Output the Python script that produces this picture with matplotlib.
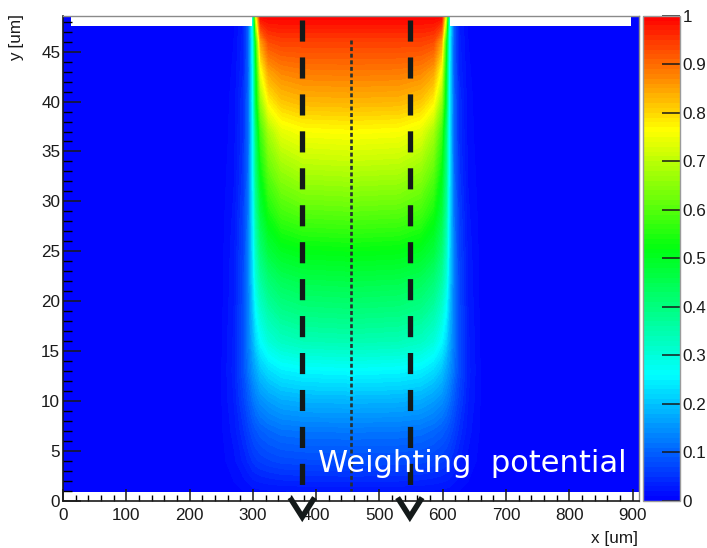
import matplotlib
matplotlib.use("Agg")
import matplotlib.pyplot as plt
from matplotlib.colors import LinearSegmentedColormap, Normalize
import numpy as np


# ------------------------------------------------------------
#  Datos (potencial de ponderacion)
# ------------------------------------------------------------
X_MAX = 910.0      # ancho del detector [um]
Y_MAX = 48.6       # espesor [um]

# columnas de la mitad izquierda (la derecha es simetrica respecto de 455 um)
x_half = [0, 200, 250, 270, 285, 293, 300, 305, 312, 325, 345, 380, 455]

# filas en y [um]
y_rows = [0.9, 2, 4, 7, 10, 13, 16, 19, 22, 25, 29, 33, 37, 40, 43, 46, 48.6]

# potencial en cada fila (mitad izquierda, mismas columnas que x_half)
pot_half = [
    [0, 0.000, 0.002, 0.005, 0.009, 0.011, 0.014, 0.015, 0.016, 0.017, 0.018, 0.019, 0.020],
    [0, 0.000, 0.004, 0.010, 0.017, 0.022, 0.028, 0.030, 0.032, 0.035, 0.038, 0.040, 0.041],
    [0, 0.000, 0.006, 0.017, 0.032, 0.042, 0.052, 0.057, 0.062, 0.068, 0.074, 0.077, 0.078],
    [0, 0.000, 0.008, 0.024, 0.048, 0.065, 0.080, 0.088, 0.097, 0.107, 0.116, 0.120, 0.122],
    [0, 0.000, 0.009, 0.030, 0.065, 0.092, 0.115, 0.130, 0.145, 0.160, 0.175, 0.182, 0.185],
    [0, 0.000, 0.009, 0.034, 0.080, 0.118, 0.150, 0.170, 0.200, 0.225, 0.245, 0.255, 0.260],
    [0, 0.000, 0.008, 0.032, 0.082, 0.128, 0.180, 0.220, 0.260, 0.300, 0.325, 0.340, 0.345],
    [0, 0.000, 0.007, 0.030, 0.078, 0.130, 0.200, 0.260, 0.310, 0.355, 0.385, 0.400, 0.405],
    [0, 0.000, 0.006, 0.027, 0.074, 0.130, 0.220, 0.300, 0.360, 0.410, 0.440, 0.455, 0.460],
    [0, 0.000, 0.006, 0.026, 0.071, 0.130, 0.230, 0.330, 0.410, 0.470, 0.500, 0.515, 0.520],
    [0, 0.000, 0.005, 0.022, 0.064, 0.125, 0.240, 0.370, 0.470, 0.540, 0.585, 0.605, 0.610],
    [0, 0.000, 0.004, 0.018, 0.055, 0.115, 0.250, 0.400, 0.520, 0.610, 0.660, 0.685, 0.690],
    [0, 0.000, 0.003, 0.015, 0.050, 0.110, 0.250, 0.420, 0.580, 0.680, 0.740, 0.760, 0.765],
    [0, 0.000, 0.003, 0.014, 0.050, 0.110, 0.260, 0.480, 0.660, 0.775, 0.815, 0.830, 0.833],
    [0, 0.000, 0.002, 0.012, 0.040, 0.100, 0.260, 0.500, 0.750, 0.850, 0.875, 0.885, 0.887],
    [0, 0.000, 0.002, 0.010, 0.035, 0.100, 0.270, 0.550, 0.850, 0.930, 0.940, 0.940, 0.940],
    [0, 0.000, 0.001, 0.008, 0.030, 0.100, 0.300, 0.750, 1.000, 1.000, 1.000, 1.000, 1.000],
]

# electrodos (zonas con potencial exactamente 0, blancas en ROOT)
backplane_top = 0.9                 # fila inferior
top_row = (47.6, Y_MAX)             # fila superior
gap_electrodes = [(12, 299), (611, 898)]

# anotaciones
readout_x = [378, 548]              # lineas de trazos gruesas
center_x = 455.7                    # linea punteada
cbar_ticks = [0, 0.1, 0.2, 0.3, 0.4, 0.5, 0.6, 0.7, 0.8, 0.9, 1.0]
cbar_labels = ["0", "0.1", "0.2", "0.3", "0.4", "0.5", "0.6", "0.7", "0.8", "0.9", "1"]


# ------------------------------------------------------------
#  Armado de la grilla completa (espejo de la mitad izquierda)
# ------------------------------------------------------------
x_full = x_half + [X_MAX - x for x in reversed(x_half[:-1])]
pot_full = np.array([row + row[-2::-1] for row in pot_half])

# paleta tipo ROOT (azul -> cian -> verde -> amarillo -> rojo)
cmap = LinearSegmentedColormap.from_list(
    "root", [(0.0, "#0000ff"), (0.26, "#00ffff"), (0.52, "#00ff10"),
             (0.765, "#ffff00"), (1.0, "#ff0000")])
norm = Normalize(0, 1)

plt.rcParams["font.family"] = ["Liberation Sans", "DejaVu Sans"]

fig = plt.figure(figsize=(7.07, 5.48), dpi=100)
ax = fig.add_axes([0.0891, 0.0858, 0.8147, 0.8856])
cax = fig.add_axes([0.9095, 0.0858, 0.0523, 0.8856])

cf = ax.contourf(x_full, y_rows, pot_full, levels=np.linspace(0, 1, 101),
                 cmap=cmap, norm=norm, antialiased=False, zorder=1)

# electrodos en blanco (debajo de las marcas de los ejes)
ax.axhspan(0, backplane_top, color="white", lw=0, zorder=1.5)
for x0, x1 in gap_electrodes:
    ax.fill_between([x0, x1], top_row[0], top_row[1], color="white", lw=0, zorder=1.5)

ax.set_xlim(0, X_MAX)
ax.set_ylim(0, Y_MAX)

# lineas de lectura y linea central
for xr in readout_x:
    ax.plot([xr, xr], [48.2, 1.0], color="#141a1a", lw=3.8,
            dashes=(4, 3), solid_capstyle="butt", zorder=4)
    ax.plot([xr - 17, xr, xr + 17], [0.1, -1.6, 0.1], color="#141a1a",
            lw=4.0, solid_joinstyle="miter", clip_on=False, zorder=5)
ax.plot([center_x, center_x], [46.2, 1.0], color="#26302f", lw=1.9,
        dashes=(1.5, 1.0), zorder=4)

ax.text(403.5, 2.93, "Weighting  potential", color="white", fontsize=22,
        family="DejaVu Sans", ha="left", va="baseline", zorder=6)

# ejes estilo ROOT
ax.set_xticks(np.arange(0, 901, 100))
ax.set_xticks(np.arange(0, 911, 20), minor=True)
ax.set_yticks(np.arange(0, 46, 5))
ax.set_yticks(np.arange(0, 49, 1), minor=True)
ax.tick_params(axis="x", which="major", direction="in", length=8.6, width=1.1,
               pad=5, labelsize=12.3, colors="#1a1a1a")
ax.tick_params(axis="x", which="minor", direction="in", length=4.3, width=1.0)
ax.tick_params(axis="y", which="major", direction="in", length=13, width=1.1,
               pad=2, labelsize=12.3, colors="#1a1a1a")
ax.tick_params(axis="y", which="minor", direction="in", length=6.5, width=1.0)
for s in ["left", "bottom"]:
    ax.spines[s].set_color("#1a1a1a")
    ax.spines[s].set_linewidth(1.2)
for s in ["top", "right"]:
    ax.spines[s].set_color("#8a8a8a")
    ax.spines[s].set_linewidth(1.0)
for t in ax.get_xticklines(minor=True) + ax.get_yticklines(minor=True):
    t.set_color("#1a1a1a")

fig.text(17 / 707, 1 - 14 / 548, "y [um]", rotation=90, ha="center", va="top",
         fontsize=12.3, color="#1a1a1a")
fig.text(638 / 707, 1 - 539 / 548, "x [um]", ha="right", va="center",
         fontsize=12.3, color="#1a1a1a")

# barra de colores
cb = fig.colorbar(cf, cax=cax)
cb.set_ticks(cbar_ticks)
cb.set_ticklabels(cbar_labels)
cb.outline.set_edgecolor("#9a9a9a")
cb.outline.set_linewidth(1.0)
cax.tick_params(direction="in", length=13, width=1.1, pad=2, labelsize=12.3,
                colors="#1a1a1a")
cax.minorticks_off()

fig.savefig("out.png", dpi=100, facecolor="white")
